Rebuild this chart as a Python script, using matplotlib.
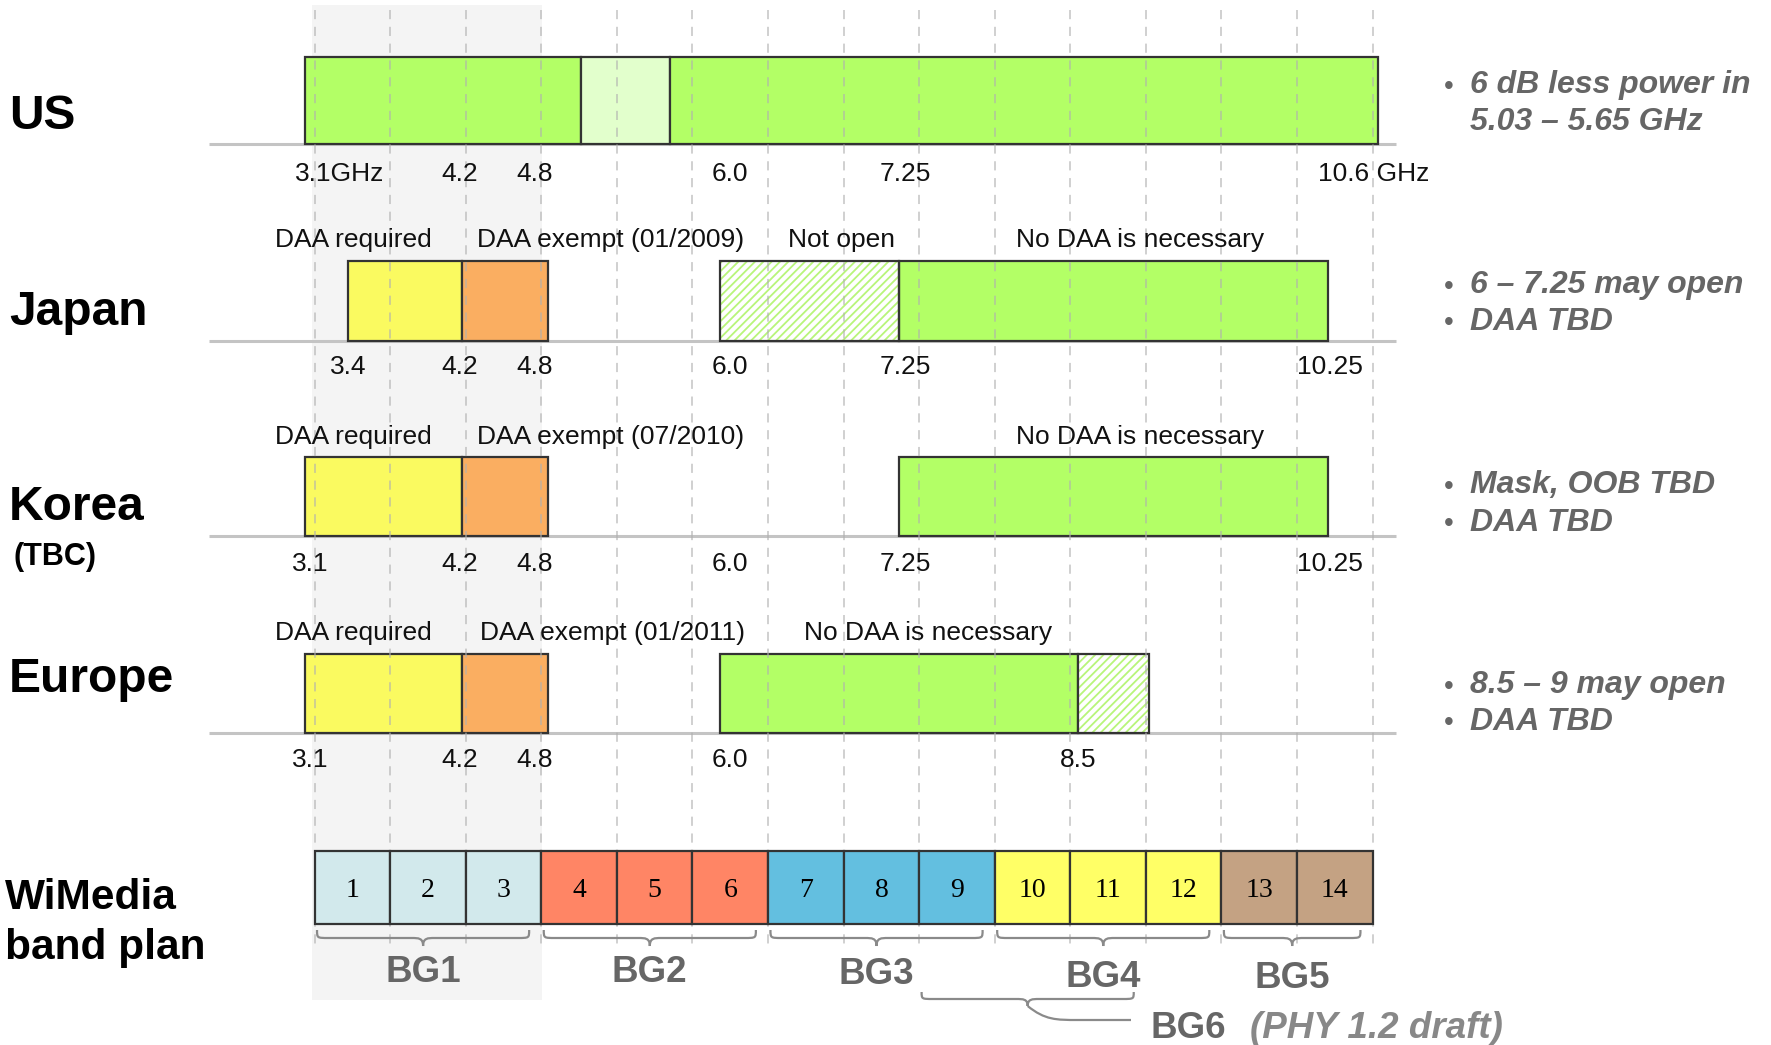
import matplotlib.pyplot as plt
from matplotlib.patches import Rectangle, PathPatch
from matplotlib.path import Path

plt.rcParams['font.family'] = ['Liberation Sans', 'DejaVu Sans']
plt.rcParams['hatch.linewidth'] = 1.3

W, H = 1771, 1045

# WiMedia band plan: 14 bands of 528 MHz from 3168 MHz
band_start = 3.168
band_width = 0.528
band_numbers = list(range(1, 15))
group_names = ['BG1', 'BG2', 'BG3', 'BG4', 'BG5']
group_bands = [(1, 3), (4, 6), (7, 9), (10, 12), (13, 14)]
group_colors = ['#d2e9ec', '#ff8565', '#63bfe0', '#ffff66', '#c4a283']
bg6_bands = (9, 11)

# regulatory segments per region: (start GHz, end GHz, kind)
us_segments = [(3.1, 5.03, 'open'), (5.03, 5.65, 'reduced'), (5.65, 10.6, 'open')]
japan_segments = [(3.4, 4.2, 'daa'), (4.2, 4.8, 'exempt'), (6.0, 7.25, 'closed'), (7.25, 10.25, 'open')]
korea_segments = [(3.1, 4.2, 'daa'), (4.2, 4.8, 'exempt'), (7.25, 10.25, 'open')]
europe_segments = [(3.1, 4.2, 'daa'), (4.2, 4.8, 'exempt'), (6.0, 8.5, 'open'), (8.5, 9.0, 'closed')]

us_ticks = [(3.1, '3.1GHz'), (4.2, '4.2'), (4.8, '4.8'), (6.0, '6.0'), (7.25, '7.25'), (10.6, '10.6 GHz')]
japan_ticks = [(3.4, '3.4'), (4.2, '4.2'), (4.8, '4.8'), (6.0, '6.0'), (7.25, '7.25'), (10.25, '10.25')]
korea_ticks = [(3.1, '3.1'), (4.2, '4.2'), (4.8, '4.8'), (6.0, '6.0'), (7.25, '7.25'), (10.25, '10.25')]
europe_ticks = [(3.1, '3.1'), (4.2, '4.2'), (4.8, '4.8'), (6.0, '6.0'), (8.5, '8.5')]

japan_titles = ['DAA required', 'DAA exempt (01/2009)', 'Not open', 'No DAA is necessary']
korea_titles = ['DAA required', 'DAA exempt (07/2010)', 'No DAA is necessary']
europe_titles = ['DAA required', 'DAA exempt (01/2011)', 'No DAA is necessary']

us_notes = ['6 dB less power in', '5.03 \u2013 5.65 GHz']
japan_notes = ['6 \u2013 7.25 may open', 'DAA TBD']
korea_notes = ['Mask, OOB TBD', 'DAA TBD']
europe_notes = ['8.5 \u2013 9 may open', 'DAA TBD']

seg_colors = {'open': '#b3ff66', 'reduced': '#e2ffcc', 'daa': '#fafa60', 'exempt': '#faae61'}
EDGE = '#333333'
GRAY = '#666666'

# pixel position of 3.168 GHz and pixels per GHz
PX0, PPG = 314.6, 143.13


def gx(px):
    return band_start + (px - PX0) / PPG


def txt(x, yc, s, size, ratio=0.716, **kw):
    # place text by the centre of its capitals
    ax.text(x, yc + ratio * size * 100 / 72 / 2, s, fontsize=size, va='baseline', **kw)


fig = plt.figure(figsize=(W / 100, H / 100), dpi=100)
ax = fig.add_axes([0, 0, 1, 1])
ax.set_xlim(gx(0), gx(W))
ax.set_ylim(H, 0)
ax.axis('off')

edges = [band_start + k * band_width for k in range(15)]

# BG1 shading
ax.add_patch(Rectangle((edges[0] - 0.018, 5), edges[3] - edges[0] + 0.02, 995,
                       facecolor='#f4f4f4', edgecolor='none', zorder=0))

# band edge grid
for x in edges:
    ax.plot([x, x], [10, 945], color='#b0b0b0', lw=1.1, ls=(0, (6, 5)), alpha=0.75, zorder=3)

rows = [
    dict(name='US', name_y=111.6, segs=us_segments, ticks=us_ticks, titles=[], title_x=[],
         notes=us_notes, note_y=[81.7, 118.5], top=56.5, bottom=144, tick_y=171.7, title_y=None),
    dict(name='Japan', name_y=307.5, segs=japan_segments, ticks=japan_ticks, titles=japan_titles,
         title_x=[353.5, 610.5, 841, 1140], notes=japan_notes, note_y=[281.7, 318.3],
         top=260.7, bottom=340.7, tick_y=365, title_y=237.3),
    dict(name='Korea', name_y=503, segs=korea_segments, ticks=korea_ticks, titles=korea_titles,
         title_x=[353.5, 610.5, 1140], notes=korea_notes, note_y=[481.7, 519.3],
         top=456.7, bottom=536, tick_y=561.7, title_y=435),
    dict(name='Europe', name_y=675, segs=europe_segments, ticks=europe_ticks, titles=europe_titles,
         title_x=[353.5, 612, 928.5], notes=europe_notes, note_y=[681.7, 718.3],
         top=654, bottom=733, tick_y=757.7, title_y=630.7),
]

tick_nudge = {'3.1GHz': 35, '3.1': 5, '4.2': -3, '4.8': -14, '6.0': 10, '7.25': 6, '10.6 GHz': -5, '10.25': 2}

for r in rows:
    top, bot = r['top'], r['bottom']
    ax.plot([gx(209), gx(1396)], [bot, bot], color='#c4c4c4', lw=2.2, zorder=1,
            solid_capstyle='butt')
    for s, e, kind in r['segs']:
        if kind == 'closed':
            ax.add_patch(Rectangle((s, top), e - s, bot - top, facecolor='white',
                                   edgecolor='#b8f57a', hatch='////', lw=0, zorder=2))
            ax.add_patch(Rectangle((s, top), e - s, bot - top, fill=False,
                                   edgecolor=EDGE, lw=1.6, zorder=2.5))
        else:
            ax.add_patch(Rectangle((s, top), e - s, bot - top, facecolor=seg_colors[kind],
                                   edgecolor=EDGE, lw=1.6, zorder=2))
    for v, lab in r['ticks']:
        txt(v + tick_nudge.get(lab, 0) / PPG, r['tick_y'], lab, 19, ha='center', color='#111111')
    for lab, px in zip(r['titles'], r['title_x']):
        txt(gx(px), r['title_y'], lab, 19, ha='center', color='#111111')
    txt(gx(9), r['name_y'], r['name'], 34.5, fontweight='bold', ha='left')
    for i, (note, y) in enumerate(zip(r['notes'], r['note_y'])):
        if r['name'] != 'US' or i == 0:
            txt(gx(1449), y + 2, '\u2022', 20, ha='center', color=GRAY)
        txt(gx(1470), y, note, 23, fontweight='bold', fontstyle='italic', ha='left', color=GRAY)

txt(gx(13), 554, '(TBC)', 22, fontweight='bold', ha='left')
txt(gx(5), 894, 'WiMedia', 30.5, fontweight='bold', ha='left')
txt(gx(5), 944, 'band plan', 30.5, fontweight='bold', ha='left')

# WiMedia band cells
for (lo, hi), col in zip(group_bands, group_colors):
    for n in range(lo, hi + 1):
        x = band_start + (n - 1) * band_width
        ax.add_patch(Rectangle((x, 851), band_width, 73, facecolor=col, edgecolor=EDGE,
                               lw=1.6, zorder=4))
        txt(x + band_width / 2, 888, str(n), 20, ratio=0.662, ha='center',
            family=['Liberation Serif', 'DejaVu Serif'], zorder=5)


def brace(x0, x1, y0, y1, y2, r=0.08, tail=None):
    xt = (x0 + x1) / 2
    verts = [(x0, y0), (x0, y1), (x0, y1), (x0 + r, y1),
             (xt - r, y1),
             (xt - r * 0.4, y1), (xt, y1), (xt, y2),
             (xt, y1), (xt + r * 0.4, y1), (xt + r, y1),
             (x1 - r, y1),
             (x1, y1), (x1, y1), (x1, y0)]
    codes = [Path.MOVETO] + [Path.CURVE4] * 3 + [Path.LINETO] + [Path.CURVE4] * 6 + \
            [Path.LINETO] + [Path.CURVE4] * 3
    if tail is not None:
        xe, y3 = tail
        verts += [(xt, y2), (xt + 0.12, y3), (xt + 0.2, y3), (xt + 0.35, y3), (xe, y3)]
        codes += [Path.MOVETO] + [Path.CURVE4] * 3 + [Path.LINETO]
    ax.add_patch(PathPatch(Path(verts, codes), facecolor='none', edgecolor='#8a8a8a',
                           lw=1.6, zorder=4))
    return xt


bg_label_y = [969, 969, 971, 974, 975]
for name, (lo, hi), ly in zip(group_names, group_bands, bg_label_y):
    x0 = band_start + (lo - 1) * band_width + 0.017
    x1 = band_start + hi * band_width - 0.085
    xt = brace(x0, x1, 930, 938, 946)
    txt(xt, ly, name, 26.5, fontweight='bold', ha='center', color=GRAY)

lo, hi = bg6_bands
brace(band_start + (lo - 1) * band_width + 0.017, band_start + hi * band_width - 0.085,
      992, 999, 1006, tail=(gx(1131), 1020))
txt(gx(1150), 1025, 'BG6', 26.5, fontweight='bold', ha='left', color=GRAY)
txt(gx(1250), 1025, '(PHY 1.2 draft)', 26.5, fontweight='bold', fontstyle='italic',
    ha='left', color='#888888')

fig.savefig('out.png', dpi=100)
